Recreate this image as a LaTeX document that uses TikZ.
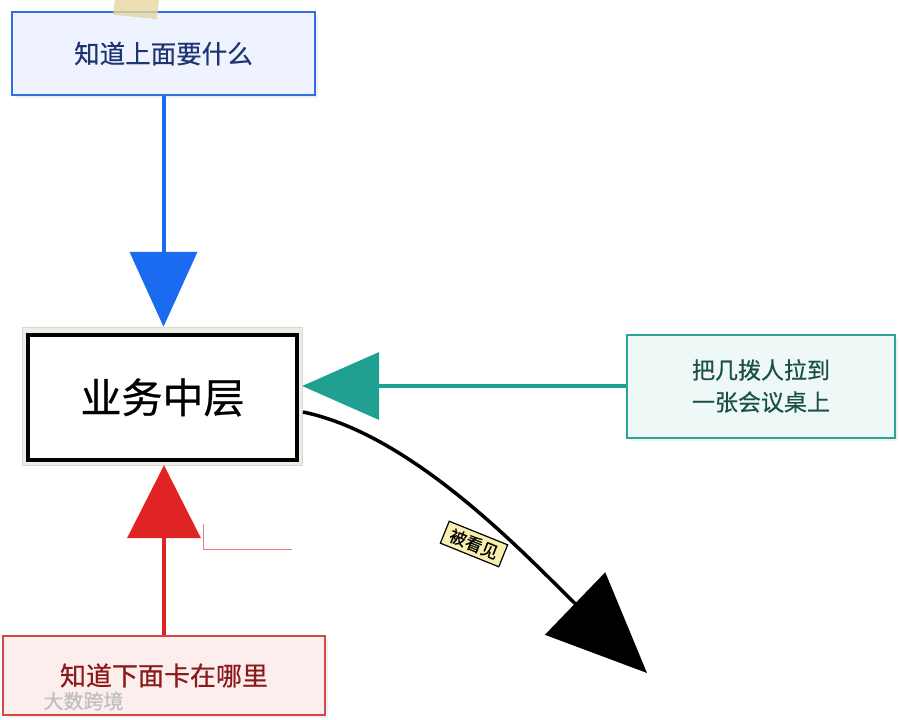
\documentclass[tikz,border=0pt]{standalone}
\usepackage{fontspec}
\newfontfamily\cjk[FakeBold=0.6]{Noto Sans CJK SC}
\usetikzlibrary{arrows.meta,shadows}
\definecolor{bluebd}{HTML}{2F6FE0}
\definecolor{bluefill}{HTML}{EEF3FF}
\definecolor{bluetxt}{HTML}{1F3570}
\definecolor{bluearr}{HTML}{1A6BF0}
\definecolor{redbd}{HTML}{D04848}
\definecolor{redfill}{HTML}{FDEEEE}
\definecolor{redtxt}{HTML}{8B1A1A}
\definecolor{redarr}{HTML}{E02424}
\definecolor{tealbd}{HTML}{2AA59A}
\definecolor{tealfill}{HTML}{EEF9F7}
\definecolor{tealtxt}{HTML}{1D4F4A}
\definecolor{tealarr}{HTML}{1FA090}
\definecolor{tape}{HTML}{E6D6A0}
\definecolor{frame}{HTML}{EFECE6}
\definecolor{labelfill}{HTML}{F7EEB0}
\tikzset{
  card/.style={draw, line width=2pt, align=center, inner sep=0pt, font=\cjk,
     drop shadow={opacity=0.12, shadow xshift=3pt, shadow yshift=-3pt}},
  bluecard/.style={card, draw=bluebd, fill=bluefill, text=bluetxt},
  redcard/.style={card, draw=redbd, fill=redfill, text=redtxt},
  tealcard/.style={card, draw=tealbd, fill=tealfill, text=tealtxt},
  conn/.style={line width=4pt},
}
\begin{document}
\begin{tikzpicture}[x=1pt,y=-1pt]
\useasboundingbox (0,0) rectangle (900,720);
% boxes
\node[bluecard, minimum width=303pt, minimum height=83pt, font=\cjk\fontsize{25.5}{28}\selectfont] (top) at (163.5,53.5) {知道上面要什么};
% tape
\fill[tape, opacity=0.8, rotate around={-6:(136,8)}] (114,-2) rectangle (158,17);
\node[draw=frame!80!gray, fill=frame, minimum width=280pt, minimum height=138pt, inner sep=0pt] (midframe) at (162,396) {};
\node[draw=black, line width=3.5pt, fill=white, minimum width=269pt, minimum height=125pt, inner sep=0pt, font=\cjk\fontsize{41}{44}\selectfont] (mid) at (162.5,397.5) {业务中层};
\node[tealcard, minimum width=268pt, minimum height=103pt, font=\cjk\fontsize{23}{32}\selectfont] (right) at (761,386) {把几拨人拉到\\一张会议桌上};
\node[redcard, minimum width=322pt, minimum height=79pt, font=\cjk\fontsize{26}{28}\selectfont] (bottom) at (164,675.5) {知道下面卡在哪里};
% watermark
\node[text=gray!50, font=\cjk\fontsize{20}{22}\selectfont, anchor=west] (wm) at (40,701) {大数跨境};
% small hidden label stub
\draw[redarr!60, line width=1pt] (203,524) -- (203,549) -- (292,549);
% connectors
\draw[conn, draw=bluearr, -{Triangle[length=75pt,width=67pt]}] (top.south) -- (top.south |- midframe.north);
\draw[conn, draw=redarr, -{Triangle[length=73pt,width=73pt]}] (bottom.north) -- (bottom.north |- midframe.south);
\draw[conn, draw=tealarr, -{Triangle[length=77pt,width=67pt]}] (right.west) -- (right.west -| midframe.east);
\coordinate (cstart) at (303,412);
\coordinate (ctip) at (647,673);
\draw[line width=3.5pt, -{Triangle[length=100pt,width=86pt]}] (cstart) .. controls (415,435) and (530,560) .. (ctip);
\node[draw=black, line width=1.2pt, fill=labelfill, rotate=-22, font=\cjk\fontsize{17}{19}\selectfont, inner xsep=6pt, inner ysep=4pt] (lbl) at (474,544) {被看见};
\end{tikzpicture}
\end{document}
